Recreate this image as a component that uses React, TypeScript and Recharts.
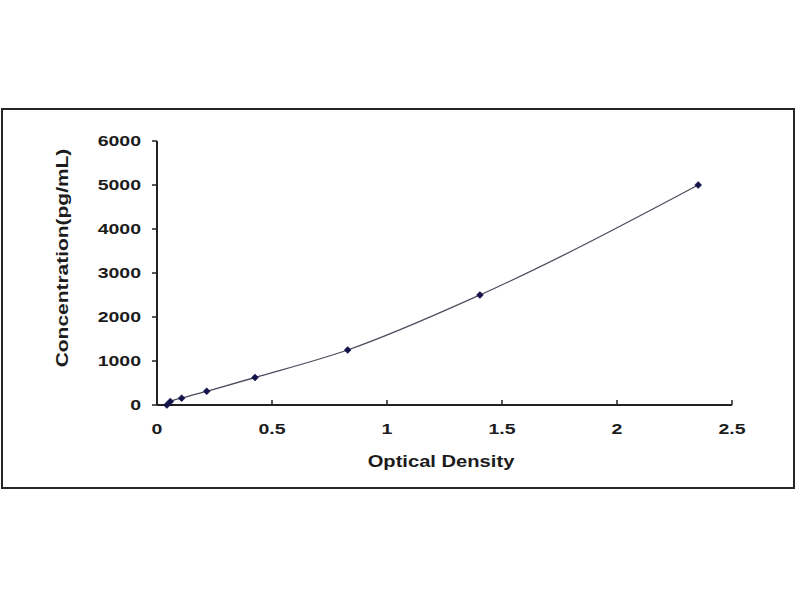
import React from "react";
import { LineChart, Line, XAxis, YAxis, Label } from "recharts";

const opticalDensity = [0.043, 0.058, 0.107, 0.216, 0.426, 0.829, 1.404, 2.353];
const concentration = [0, 78, 156, 312, 625, 1250, 2500, 5000];
const xTicks = [0, 0.5, 1, 1.5, 2, 2.5];
const yTicks = [0, 1000, 2000, 3000, 4000, 5000, 6000];
const xTitle = "Optical Density";
const yTitle = "Concentration(pg/mL)";

const data = opticalDensity.map((od, i) => ({ od, conc: concentration[i] }));

const FONT = '"Liberation Sans", Arial, sans-serif';
const INK = "#1c1c1c";

const XTick = (p: any) => (
  <g transform={`translate(${p.x},${p.y}) scale(1.3,1)`}>
    <text
      x={0}
      y={0}
      textAnchor="middle"
      dominantBaseline="central"
      fontFamily={FONT}
      fontWeight="bold"
      fontSize={15}
      fill={INK}
    >
      {p.payload.value}
    </text>
  </g>
);

const YTick = (p: any) => (
  <g transform={`translate(${p.x},${p.y}) scale(1.3,1)`}>
    <text
      x={0}
      y={0}
      textAnchor="end"
      dominantBaseline="central"
      fontFamily={FONT}
      fontWeight="bold"
      fontSize={15}
      fill={INK}
    >
      {p.payload.value}
    </text>
  </g>
);

const Diamond = (p: any) => {
  const { cx, cy } = p;
  if (cx == null || cy == null) return null;
  const r = 3.5;
  return (
    <path
      key={`d-${p.index}`}
      d={`M${cx},${cy - r}L${cx + r},${cy}L${cx},${cy + r}L${cx - r},${cy}Z`}
      fill="#14144a"
      stroke="#14144a"
      strokeWidth={0.5}
    />
  );
};

export default function App() {
  return (
    <div
      style={{
        position: "absolute",
        left: 0,
        top: 0,
        width: 800,
        height: 600,
        background: "#fff",
      }}
    >
      <div
        style={{
          position: "absolute",
          left: 1,
          top: 108,
          width: 794,
          height: 381,
          boxSizing: "border-box",
          border: "2px solid #262626",
        }}
      />
      <div style={{ position: "absolute", left: 0, top: 0 }}>
        <LineChart
          width={800}
          height={600}
          data={data}
          margin={{ top: 141, right: 68, bottom: 165, left: 97 }}
        >
          <XAxis
            dataKey="od"
            type="number"
            domain={[0, 2.5]}
            ticks={xTicks}
            interval={0}
            height={30}
            tickSize={-5}
            tickMargin={29}
            tick={<XTick />}
            axisLine={{ stroke: "#222", strokeWidth: 2 }}
            tickLine={{ stroke: "#222", strokeWidth: 1.5 }}
          >
            <Label
              content={() => (
                <g transform="translate(441,462) scale(1.26,1)">
                  <text
                    x={0}
                    y={0}
                    textAnchor="middle"
                    dominantBaseline="central"
                    fontFamily={FONT}
                    fontWeight="bold"
                    fontSize={16}
                    fill={INK}
                  >
                    {xTitle}
                  </text>
                </g>
              )}
            />
          </XAxis>
          <YAxis
            dataKey="conc"
            type="number"
            domain={[0, 6000]}
            ticks={yTicks}
            interval={0}
            width={60}
            tickSize={5}
            tickMargin={11}
            tick={<YTick />}
            axisLine={{ stroke: "#222", strokeWidth: 2 }}
            tickLine={{ stroke: "#222", strokeWidth: 1.5 }}
          >
            <Label
              content={() => (
                <g transform="translate(62,258) rotate(-90) scale(1.31,1)">
                  <text
                    x={0}
                    y={0}
                    textAnchor="middle"
                    dominantBaseline="central"
                    fontFamily={FONT}
                    fontWeight="bold"
                    fontSize={16}
                    fill={INK}
                  >
                    {yTitle}
                  </text>
                </g>
              )}
            />
          </YAxis>
          <Line
            type="monotone"
            dataKey="conc"
            stroke="#4d4d5e"
            strokeWidth={1.3}
            dot={<Diamond />}
            activeDot={false}
            isAnimationActive={false}
          />
        </LineChart>
      </div>
    </div>
  );
}
